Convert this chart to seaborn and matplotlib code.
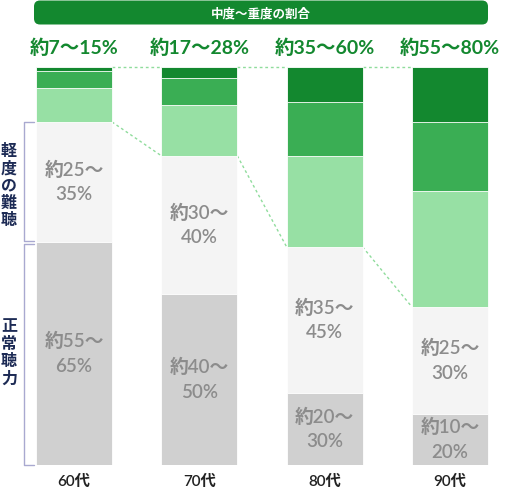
import matplotlib
matplotlib.use("Agg")
import matplotlib.pyplot as plt
import matplotlib.transforms as mtransforms
from matplotlib.patches import FancyBboxPatch
import numpy as np
import pandas as pd
import seaborn as sns

# ---- data (percent of each age group) ----
ages = ['60代', '70代', '80代', '90代']
severe = [1.0, 2.8, 8.8, 13.8]          # dark green
mod_severe = [4.3, 6.8, 13.6, 17.3]     # mid green
moderate = [8.5, 12.8, 22.9, 29.1]      # light green
mild = [30.2, 34.7, 36.7, 26.9]         # light gray
normal = [56.0, 43.0, 18.1, 12.8]       # gray

top_labels = ['約7～15%', '約17～28%', '約35～60%', '約55～80%']
mild_labels = ['約25～\n35%', '約30～\n40%', '約35～\n45%', '約25～\n30%']
normal_labels = ['約55～\n65%', '約40～\n50%', '約20～\n30%', '約10～\n20%']
banner_text = '中度～重度の割合'
mild_title = '軽度の難聴'
normal_title = '正常聴力'

sns.set_theme(style='white')
plt.rcParams['font.family'] = ['Lato', 'Noto Sans CJK JP', 'DejaVu Sans']

colors = ['#d0d0d0', '#f4f4f4', '#97e0a4', '#3aae54', '#13882f']
layers = [normal, mild, moderate, mod_severe, severe]
cums = np.cumsum(np.array(layers), axis=0)

W, H = 506, 491
fig = plt.figure(figsize=(W / 100, H / 100), dpi=100)

# overlay axes for decorations in pixel space
ov = fig.add_axes([0, 0, 1, 1], zorder=0)
ov.set_xlim(0, W)
ov.set_ylim(H, 0)
ov.axis('off')

ax = fig.add_axes([11.3 / W, (H - 465) / H, 501.3 / W, 398 / H], zorder=1)
ax.patch.set_alpha(0)

bw = 0.606
for lvl in range(4, -1, -1):
    df = pd.DataFrame({'age': ages, 'cum': cums[lvl]})
    sns.barplot(data=df, x='age', y='cum', color=colors[lvl], saturation=1,
                width=bw, ax=ax, edgecolor='white', linewidth=0.6)

ax.set_xlim(-0.5, 3.5)
ax.set_ylim(0, 100)
ax.set_xlabel('')
ax.set_ylabel('')
ax.set_yticks([])
ax.tick_params(axis='x', length=0, pad=7, labelsize=11, labelcolor='#222222')
for lab in ax.get_xticklabels():
    lab.set_fontweight('semibold')
for s in ax.spines.values():
    s.set_visible(False)

# dotted connectors
dot_kw = dict(color='#8fdc9c', lw=1.0, ls=(0, (2, 2)), zorder=0.5, clip_on=False)
for i in range(3):
    ax.plot([i + bw / 2, i + 1 - bw / 2], [100, 100], **dot_kw)
    ax.plot([i + bw / 2, i + 1 - bw / 2], [cums[1][i], cums[1][i + 1]], **dot_kw)

# segment labels
lab_kw = dict(ha='center', va='center', fontsize=13.5, color='#8c8c8c',
              linespacing=1.55, fontweight='semibold')
for i in range(4):
    ax.text(i, (cums[0][i] + cums[1][i]) / 2, mild_labels[i], **lab_kw)
    ax.text(i, cums[0][i] / 2, normal_labels[i], **lab_kw)

# top labels
tr = mtransforms.blended_transform_factory(ax.transData, ov.transData)
for i in range(4):
    ax.text(i, 48, top_labels[i], transform=tr, ha='center', va='center',
            fontsize=14, fontweight='bold', color='#13882f')

# banner
ov.add_patch(FancyBboxPatch((34, 0.5), 454, 24, boxstyle='round,pad=0,rounding_size=6',
                            fc='#13882f', ec='none'))
ov.text(261, 13, banner_text, ha='center', va='center', fontsize=9,
        fontweight='bold', color='white')

# brackets
trb = mtransforms.blended_transform_factory(ov.transData, ax.transData)
bc = '#a9a9d0'
y0, y1 = cums[0][0], cums[1][0]
ax.plot([34, 24, 24, 34], [y1, y1, y0 + 0.4, y0 + 0.4], transform=trb, color=bc, lw=1, clip_on=False)
ax.plot([34, 24, 24, 34], [y0 - 0.4, y0 - 0.4, 0, 0], transform=trb, color=bc, lw=1, clip_on=False)
ax.text(9, (y0 + y1) / 2 - 1, '\n'.join(mild_title), transform=trb, ha='center', va='center',
        fontsize=11.5, fontweight='bold', color='#1d2b55', linespacing=1.2)
ax.text(9, y0 / 2, '\n'.join(normal_title), transform=trb, ha='center', va='center',
        fontsize=11.5, fontweight='bold', color='#1d2b55', linespacing=1.2)

fig.savefig('out.png', dpi=100)
